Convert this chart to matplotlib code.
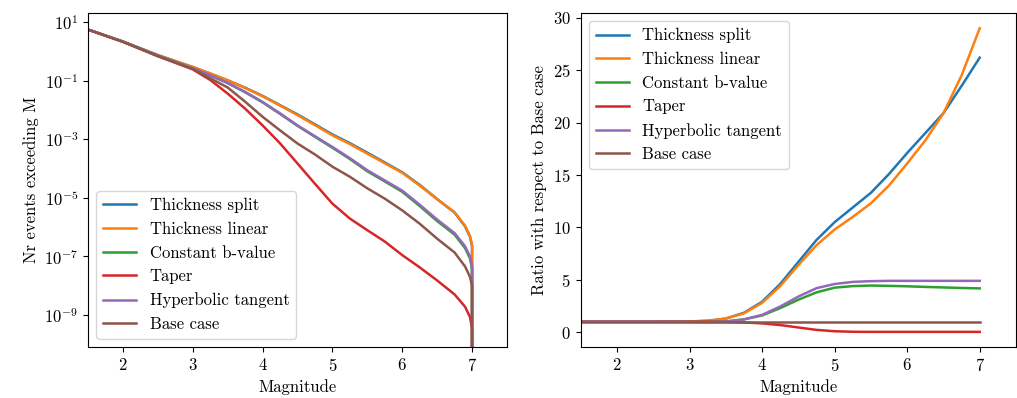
import matplotlib
matplotlib.use("Agg")
import matplotlib.pyplot as plt
from matplotlib.ticker import NullLocator

plt.rcParams['font.family'] = 'serif'
plt.rcParams['font.serif'] = ['cmr10', 'DejaVu Serif']
plt.rcParams['mathtext.fontset'] = 'cm'
plt.rcParams['axes.formatter.use_mathtext'] = True
plt.rcParams['axes.unicode_minus'] = False
plt.rcParams['font.size'] = 12
plt.rcParams['lines.linewidth'] = 1.8

labels = ['Thickness split', 'Thickness linear', 'Constant b-value', 'Taper',
          'Hyperbolic tangent', 'Base case']

# --- left: number of events exceeding M (last point drops to zero at Mmax) ---
mag_cum = [1.5, 2.0, 2.5, 3.0, 3.25, 3.5, 3.75, 4.0, 4.25, 4.5, 4.75, 5.0, 5.25, 5.5,
           5.75, 6.0, 6.25, 6.5, 6.75, 6.9, 6.97, 7.0, 7.0]
n_split = [5.5, 2.14, 0.74, 0.29, 0.174, 0.102, 0.057, 0.030, 0.0145, 7.0e-3, 3.2e-3,
           1.45e-3, 7.3e-4, 3.45e-4, 1.6e-4, 7.4e-5, 2.75e-5, 9.0e-6, 3.1e-6, 1.05e-6,
           4.7e-7, 2.2e-7, 0]
n_linear = [5.5, 2.14, 0.74, 0.29, 0.174, 0.102, 0.056, 0.029, 0.014, 6.6e-3, 3.0e-3,
            1.35e-3, 6.8e-4, 3.2e-4, 1.5e-4, 7.1e-5, 2.6e-5, 8.9e-6, 3.2e-6, 1.1e-6,
            5.0e-7, 2.4e-7, 0]
n_constb = [5.5, 2.14, 0.71, 0.26, 0.15, 0.082, 0.040, 0.0180, 7.3e-3, 2.85e-3, 1.2e-3,
            5.1e-4, 2.1e-4, 8.0e-5, 3.6e-5, 1.6e-5, 5.2e-6, 1.6e-6, 5.5e-7, 1.9e-7,
            8.5e-8, 3.8e-8, 0]
n_taper = [5.5, 2.1, 0.68, 0.24, 0.105, 0.036, 0.011, 2.95e-3, 7.2e-4, 1.48e-4, 3.0e-5,
           6.3e-6, 1.95e-6, 7.8e-7, 3.2e-7, 1.1e-7, 4.2e-8, 1.5e-8, 5.0e-9, 1.9e-9,
           8.5e-10, 3.5e-10, 0]
n_tanh = [5.5, 2.14, 0.71, 0.26, 0.15, 0.083, 0.041, 0.0186, 7.6e-3, 2.95e-3, 1.26e-3,
          5.4e-4, 2.24e-4, 8.7e-5, 3.9e-5, 1.75e-5, 5.8e-6, 1.8e-6, 6.2e-7, 2.2e-7,
          1.0e-7, 4.6e-8, 0]
n_base = [5.5, 2.1, 0.68, 0.25, 0.12, 0.058, 0.019, 5.8e-3, 2.0e-3, 7.1e-4, 3.0e-4,
          1.15e-4, 5.2e-5, 2.1e-5, 9.3e-6, 3.7e-6, 1.3e-6, 4.0e-7, 1.35e-7, 4.5e-8,
          2.0e-8, 1.0e-8, 0]

# --- right: ratio with respect to base case ---
mag_ratio = [1.5, 2.0, 2.5, 3.0, 3.25, 3.5, 3.75, 4.0, 4.25, 4.5, 4.75, 5.0, 5.25, 5.5,
             5.75, 6.0, 6.25, 6.5, 6.75, 7.0]
r_split = [1.0, 1.0, 1.0, 1.02, 1.08, 1.3, 1.85, 2.9, 4.6, 6.7, 8.8, 10.5, 11.9, 13.3,
           15.1, 17.1, 19.0, 20.9, 23.5, 26.2]
r_linear = [1.0, 1.0, 1.0, 1.03, 1.1, 1.3, 1.8, 2.8, 4.4, 6.4, 8.3, 9.8, 11.0, 12.3,
            14.0, 16.1, 18.3, 20.9, 24.5, 29.0]
r_constb = [1.0, 1.0, 1.0, 1.0, 0.99, 1.03, 1.22, 1.6, 2.3, 3.1, 3.8, 4.25, 4.4, 4.45,
            4.42, 4.38, 4.32, 4.27, 4.22, 4.18]
r_taper = [1.0, 1.0, 1.0, 1.0, 1.0, 0.98, 0.93, 0.84, 0.68, 0.45, 0.22, 0.09, 0.04,
           0.03, 0.03, 0.03, 0.03, 0.03, 0.03, 0.03]
r_tanh = [1.0, 1.0, 1.0, 0.98, 0.96, 1.0, 1.22, 1.65, 2.45, 3.4, 4.2, 4.6, 4.8, 4.87,
          4.9, 4.9, 4.9, 4.9, 4.9, 4.9]
r_base = [1.0] * len(mag_ratio)

fig = plt.figure(figsize=(10.17, 3.98), dpi=100)
ax1 = fig.add_axes([0.0865, 0.128, 0.412, 0.839])
ax2 = fig.add_axes([0.571, 0.128, 0.428, 0.839])

for y, lab in zip([n_split, n_linear, n_constb, n_taper, n_tanh, n_base], labels):
    ax1.plot(mag_cum, y, label=lab)
ax1.set_yscale('log')
ax1.set_xlim(1.5, 7.5)
ax1.set_ylim(8e-11, 20)
ax1.set_yticks([1e1, 1e-1, 1e-3, 1e-5, 1e-7, 1e-9])
ax1.yaxis.set_minor_locator(NullLocator())
ax1.set_xlabel('Magnitude')
ax1.set_ylabel('Nr events exceeding M')
ax1.legend(loc='lower left')

for y, lab in zip([r_split, r_linear, r_constb, r_taper, r_tanh, r_base], labels):
    ax2.plot(mag_ratio, y, label=lab)
ax2.set_xlim(1.5, 7.5)
ax2.set_xlabel('Magnitude')
ax2.set_ylabel('Ratio with respect to Base case')
ax2.legend(loc='upper left')

fig.savefig('out.png', dpi=100)
